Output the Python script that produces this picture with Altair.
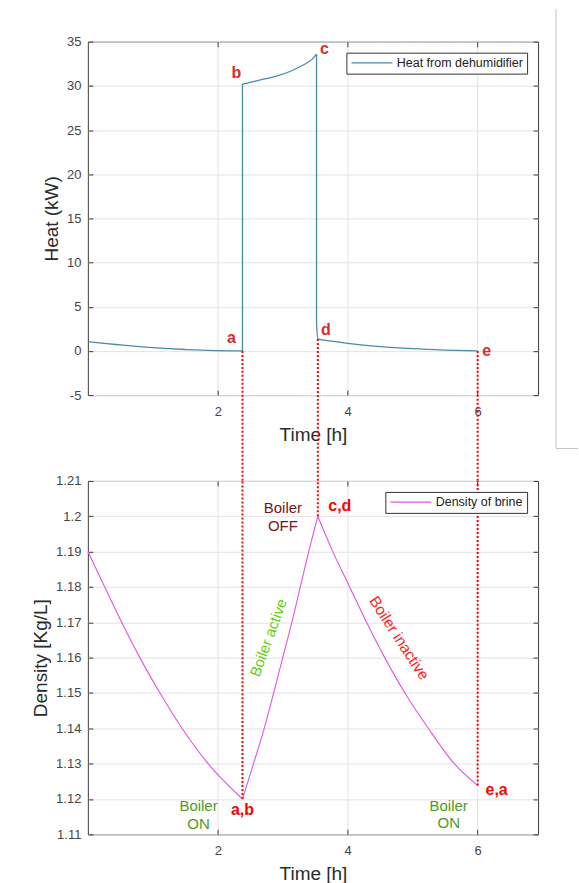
import altair as alt
import pandas as pd

# ---------------------------------------------------------------------------
# Data: one boiler cycle (time in hours)
# ---------------------------------------------------------------------------
# Heat delivered by the dehumidifier, split into drawing segments
heat_t = [0.0, 0.25, 0.5, 0.75, 1.0, 1.25, 1.5, 1.75, 2.0, 2.2, 2.38,
          2.38, 2.38,
          2.38, 2.5, 2.7, 2.9, 3.1, 3.3, 3.45, 3.52,
          3.52, 3.52,
          3.52, 3.54, 3.75, 4.0, 4.5, 5.0, 5.5, 6.0]
heat_kw = [1.05, 0.85, 0.68, 0.52, 0.38, 0.26, 0.16, 0.08, 0.03, 0.01, 0.0,
           0.0, 30.2,
           30.2, 30.4, 30.75, 31.1, 31.6, 32.3, 33.0, 33.6,
           33.6, 3.2,
           3.2, 1.35, 1.1, 0.85, 0.48, 0.25, 0.1, 0.0]
heat_seg = [0] * 11 + [1] * 2 + [2] * 8 + [3] * 2 + [4] * 8

# Density of the brine over the same cycle
dens_t = [0.0, 0.26, 0.52, 0.8, 1.11, 1.45, 1.85, 2.38,
          2.38, 2.55, 2.715, 2.86, 3.0, 3.14, 3.27, 3.4, 3.54,
          3.54, 3.77, 4.03, 4.29, 4.57, 4.88, 5.24, 5.64, 6.0]
dens_v = [1.19, 1.18, 1.17, 1.16, 1.15, 1.14, 1.13, 1.12,
          1.12, 1.13, 1.14, 1.15, 1.16, 1.17, 1.18, 1.19, 1.2,
          1.2, 1.19, 1.18, 1.17, 1.16, 1.15, 1.14, 1.13, 1.1238]
dens_seg = [0] * 8 + [1] * 9 + [2] * 9

# Cycle states a..e on both curves (shared time instants)
state_t = [2.38, 3.54, 6.0]
state_heat = [0.0, 1.35, 0.0]
state_dens = [1.12, 1.2, 1.1238]

heat_ticks = [-5, 0, 5, 10, 15, 20, 25, 30, 35]
dens_ticks = [1.11, 1.12, 1.13, 1.14, 1.15, 1.16, 1.17, 1.18, 1.19, 1.2, 1.21]
time_ticks = [2, 4, 6]

HEAT_NAME = "Heat from dehumidifier"
DENS_NAME = "Density of brine"

# ---------------------------------------------------------------------------
# Styling
# ---------------------------------------------------------------------------
FONT = "Liberation Sans"
W, H, GAP = 451, 354, 86
HEAT_COLOR = "#4a8aa8"
DENS_COLOR = "#e055e0"
LINK_RED = "#ff0000"

x_scale = alt.Scale(domain=[0, 6.93], nice=False, zero=False)
heat_scale = alt.Scale(domain=[-5, 35], nice=False, zero=False)
dens_scale = alt.Scale(domain=[1.11, 1.21], nice=False, zero=False)

tick_style = dict(domain=False, tickColor="#3a3a3a", tickSize=5, offset=-5,
                  tickWidth=1)
label_style = dict(labelColor="#454545", labelFontSize=13, labelFont=FONT,
                   titleFont=FONT, titleFontSize=19, titleFontWeight="normal",
                   titleColor="#2b2b2b")
grid_style = dict(grid=True, gridColor="#e2e2e2", gridWidth=1)


def time_axis():
    return alt.Axis(values=time_ticks, title="Time [h]", labelPadding=10,
                    titlePadding=7, **tick_style, **label_style, **grid_style)


def value_axis(title, ticks):
    return alt.Axis(values=ticks, title=title, labelPadding=7, titlePadding=5,
                    labelExpr="'' + datum.value",
                    **tick_style, **label_style, **grid_style)


def mirror_axes(df, xf, yf, y_scale, y_ticks):
    # inward ticks along the top and right edges of the box
    return alt.Chart(df).mark_point(opacity=0).encode(
        x=alt.X(xf, scale=x_scale,
                axis=alt.Axis(orient="top", labels=False, title=None,
                              grid=False, values=time_ticks, **tick_style)),
        y=alt.Y(yf, scale=y_scale,
                axis=alt.Axis(orient="right", labels=False, title=None,
                              grid=False, values=y_ticks, **tick_style)),
    )


def legend():
    return alt.Legend(title=None, orient="top-right", offset=11,
                      strokeColor="#333333", fillColor="white", padding=4,
                      symbolType="M-1,0H7", symbolSize=105,
                      symbolStrokeWidth=1.3, labelOffset=34,
                      labelFontSize=12.5, labelFont=FONT, labelColor="#222222")


def note(t, v, text, y_scale, dx=0, dy=0, color="#e02830", size=16,
         weight="bold", angle=0):
    src = pd.DataFrame({"t": [t], "v": [v], "label": [text]})
    return alt.Chart(src).mark_text(
        dx=dx, dy=dy, color=color, fontSize=size, fontWeight=weight,
        font=FONT, angle=angle, lineBreak="\n", lineHeight=18,
        align="center", baseline="middle",
    ).encode(
        x=alt.X("t:Q", scale=x_scale, axis=None),
        y=alt.Y("v:Q", scale=y_scale, axis=None),
        text="label:N",
    )


# ---------------------------------------------------------------------------
# Upper panel: heat from the dehumidifier
# ---------------------------------------------------------------------------
heat_df = pd.DataFrame({"t": heat_t, "kw": heat_kw, "seg": heat_seg,
                        "series": HEAT_NAME})
heat_df["idx"] = range(len(heat_df))
state_heat_df = pd.DataFrame({"t": state_t, "kw": state_heat})

heat_line = alt.Chart(heat_df).mark_line(
    strokeWidth=1.3, interpolate="monotone"
).encode(
    x=alt.X("t:Q", scale=x_scale, axis=time_axis()),
    y=alt.Y("kw:Q", scale=heat_scale, axis=value_axis("Heat (kW)", heat_ticks)),
    detail="seg:N",
    order="idx:Q",
    color=alt.Color("series:N",
                    scale=alt.Scale(domain=[HEAT_NAME], range=[HEAT_COLOR]),
                    legend=legend()),
)

heat_links = alt.Chart(state_heat_df).mark_rule(
    color=LINK_RED, strokeWidth=2, strokeDash=[2, 2]
).encode(
    x=alt.X("t:Q", scale=x_scale, axis=None),
    y=alt.Y("kw:Q", scale=heat_scale, axis=None),
    y2=alt.value(H + GAP),
)

# frame line of the neighbouring panel at the right edge
side_df = pd.DataFrame({"k": [0]})
side_v = alt.Chart(side_df).mark_rule(color="#c4c4c4", strokeWidth=1).encode(
    x=alt.value(469), y=alt.value(-32.5), y2=alt.value(407.5))
side_h = alt.Chart(side_df).mark_rule(color="#c4c4c4", strokeWidth=1).encode(
    x=alt.value(469), x2=alt.value(491), y=alt.value(407.5))

heat_notes = [
    note(2.38, 0.0, "a", heat_scale, dx=-11, dy=-13),
    note(2.38, 30.2, "b", heat_scale, dx=-6, dy=-11),
    note(3.52, 33.6, "c", heat_scale, dx=8, dy=-5),
    note(3.54, 1.35, "d", heat_scale, dx=8, dy=-9),
    note(6.0, 0.0, "e", heat_scale, dx=9, dy=0),
]

top = alt.layer(
    heat_line, mirror_axes(heat_df, "t:Q", "kw:Q", heat_scale, heat_ticks),
    heat_links, side_v, side_h, *heat_notes
).resolve_axis(x="independent", y="independent").properties(width=W, height=H)

# ---------------------------------------------------------------------------
# Lower panel: density of the brine
# ---------------------------------------------------------------------------
dens_df = pd.DataFrame({"t": dens_t, "v": dens_v, "seg": dens_seg,
                        "series": DENS_NAME})
dens_df["idx"] = range(len(dens_df))
state_dens_df = pd.DataFrame({"t": state_t, "v": state_dens})

dens_line = alt.Chart(dens_df).mark_line(
    strokeWidth=1.1, interpolate="monotone"
).encode(
    x=alt.X("t:Q", scale=x_scale, axis=time_axis()),
    y=alt.Y("v:Q", scale=dens_scale, axis=value_axis("Density [Kg/L]", dens_ticks)),
    detail="seg:N",
    order="idx:Q",
    color=alt.Color("series:N",
                    scale=alt.Scale(domain=[DENS_NAME], range=[DENS_COLOR]),
                    legend=legend()),
)

dens_links = alt.Chart(state_dens_df).mark_rule(
    color=LINK_RED, strokeWidth=2, strokeDash=[2, 2]
).encode(
    x=alt.X("t:Q", scale=x_scale, axis=None),
    y=alt.Y("v:Q", scale=dens_scale, axis=None),
    y2=alt.value(0),
)

dens_notes = [
    note(2.38, 1.12, "a,b", dens_scale, dx=0, dy=11, color="#ff0000"),
    note(3.54, 1.2, "c,d", dens_scale, dx=22, dy=-10, color="#ff0000"),
    note(6.0, 1.1238, "e,a", dens_scale, dx=19, dy=4, color="#ff0000"),
    note(3.54, 1.2, "Boiler\nOFF", dens_scale, dx=-35, dy=-8,
         color="#7a1416", size=15, weight="normal"),
    note(2.38, 1.12, "Boiler\nON", dens_scale, dx=-44, dy=7,
         color="#4f9a1e", size=15, weight="normal"),
    note(6.0, 1.1238, "Boiler\nON", dens_scale, dx=-29, dy=20,
         color="#4f9a1e", size=15, weight="normal"),
    note(2.78, 1.1656, "Boiler active", dens_scale, color="#66cc11",
         size=15, weight="normal", angle=290),
    note(4.79, 1.1655, "Boiler inactive", dens_scale, color="#ff1f1f",
         size=15.5, weight="normal", angle=57),
]

bottom = alt.layer(
    dens_line, mirror_axes(dens_df, "t:Q", "v:Q", dens_scale, dens_ticks),
    dens_links, *dens_notes
).resolve_axis(x="independent", y="independent").properties(width=W, height=H)

chart = alt.vconcat(top, bottom, spacing=GAP, bounds="flush").resolve_scale(
    color="independent"
).resolve_legend(color="independent").properties(
    padding={"left": 31, "top": 7, "right": 0, "bottom": 0},
    background="white",
).configure_view(stroke="#3a3a3a", strokeWidth=1)

chart.save("out.html", embed_options={"renderer": "svg", "actions": False})
